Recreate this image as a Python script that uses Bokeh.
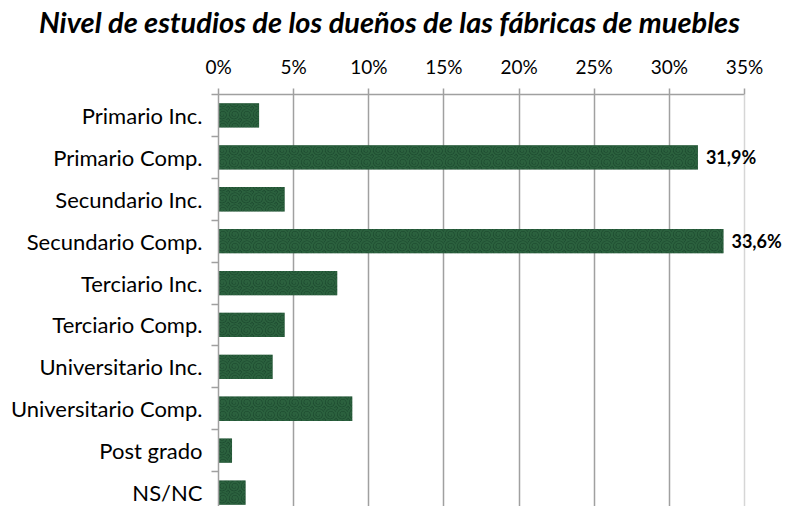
from bokeh.plotting import figure
from bokeh.layouts import column
from bokeh.models import (Range1d, FixedTicker, ColumnDataSource, LabelSet, Span, Div)
from bokeh.core.properties import value
from bokeh.embed import file_html
from bokeh.resources import INLINE

categories = ["Primario Inc.", "Primario Comp.", "Secundario Inc.", "Secundario Comp.",
              "Terciario Inc.", "Terciario Comp.", "Universitario Inc.", "Universitario Comp.",
              "Post grado", "NS/NC"]
values = [2.7, 31.9, 4.4, 33.6, 7.9, 4.4, 3.6, 8.9, 0.9, 1.8]
value_labels = ["", "31,9%", "", "33,6%", "", "", "", "", "", ""]
x_ticks = [0, 5, 10, 15, 20, 25, 30, 35]
x_tick_labels = ["0%", "5%", "10%", "15%", "20%", "25%", "30%", "35%"]
title_text = "Nivel de estudios de los dueños de las fábricas de muebles"

W, H = 786, 506
TITLE_H = 48
FONT = "Lato"
GRAY = "#a0a0a0"
LEFT, TOP = 218, 94
PX_PER_UNIT = 526 / 35.0      # pixels per percentage point
PX_PER_ROW = 41.9

positions = list(range(len(categories)))

title = Div(text=('<div style="font-family: Lato; font-size: 29px; font-weight: bold; '
                  'font-style: italic; line-height: 29px; padding-top: 7px; padding-left: 39px; '
                  'white-space: nowrap; color: black;">' + title_text + '</div>'),
            width=W, height=TITLE_H, margin=0)

PH = H - TITLE_H
x_end = (W - LEFT) / PX_PER_UNIT
y_end = -0.5 + (H - TOP) / PX_PER_ROW
p = figure(width=W, height=PH, output_backend="svg", toolbar_location=None,
           x_range=Range1d(0, x_end), y_range=Range1d(y_end, -0.5),
           x_axis_location="above", margin=0,
           min_border_left=LEFT, min_border_right=0, min_border_top=TOP - TITLE_H,
           min_border_bottom=0)
p.outline_line_color = None
p.background_fill_color = "white"
p.border_fill_color = "white"

src = ColumnDataSource(dict(y=positions, value=values, cat=categories))
p.hbar(y="y", right="value", left=0, height=0.58, source=src,
       fill_color="#17432a", line_color=None,
       hatch_pattern="spiral", hatch_color="#3f7f52", hatch_alpha=0.5,
       hatch_scale=12, hatch_weight=2)

# y axis
ya = p.yaxis[0]
ya.ticker = FixedTicker(ticks=positions, minor_ticks=[i - 0.5 for i in range(len(categories) + 1)])
ya.major_label_overrides = {i: c for i, c in zip(positions, categories)}
ya.axis_line_color = GRAY
ya.axis_line_width = 1.5
ya.major_tick_out = 0
ya.major_tick_in = 0
ya.minor_tick_out = 7
ya.minor_tick_in = 0
ya.minor_tick_line_color = GRAY
ya.minor_tick_line_width = 1.5
ya.major_label_standoff = 9
ya.major_label_text_font = FONT
ya.major_label_text_font_size = "22px"
ya.major_label_text_color = "black"

# x axis (top)
xa = p.xaxis[0]
xa.bounds = (x_ticks[0], x_ticks[-1])
xa.ticker = FixedTicker(ticks=x_ticks, minor_ticks=[])
xa.major_label_overrides = {t: l for t, l in zip(x_ticks, x_tick_labels)}
xa.axis_line_color = GRAY
xa.axis_line_width = 1.5
xa.major_tick_out = 6
xa.major_tick_in = 0
xa.major_tick_line_color = GRAY
xa.major_tick_line_width = 1.5
xa.minor_tick_line_color = None
xa.major_label_standoff = 11
xa.major_label_text_font = FONT
xa.major_label_text_font_size = "19px"
xa.major_label_text_color = "black"

p.xgrid.ticker = FixedTicker(ticks=x_ticks[1:-1])
p.xgrid.grid_line_color = GRAY
p.xgrid.grid_line_width = 1.5
p.ygrid.grid_line_color = None
p.add_layout(Span(location=x_ticks[-1], dimension="height", line_color="#d6d6d6", line_width=1.5))

lab_idx = [i for i, l in enumerate(value_labels) if l]
lsrc = ColumnDataSource(dict(y=[positions[i] for i in lab_idx],
                             x=[values[i] for i in lab_idx],
                             t=[value_labels[i] for i in lab_idx]))
p.add_layout(LabelSet(x="x", y="y", text="t", source=lsrc, x_offset=8,
                      text_baseline="middle", text_font=value(FONT), text_font_style="bold",
                      text_font_size="18px", text_color="black"))

layout = column(title, p, spacing=0, margin=0)
open("out.html", "w").write(file_html(layout, INLINE))
